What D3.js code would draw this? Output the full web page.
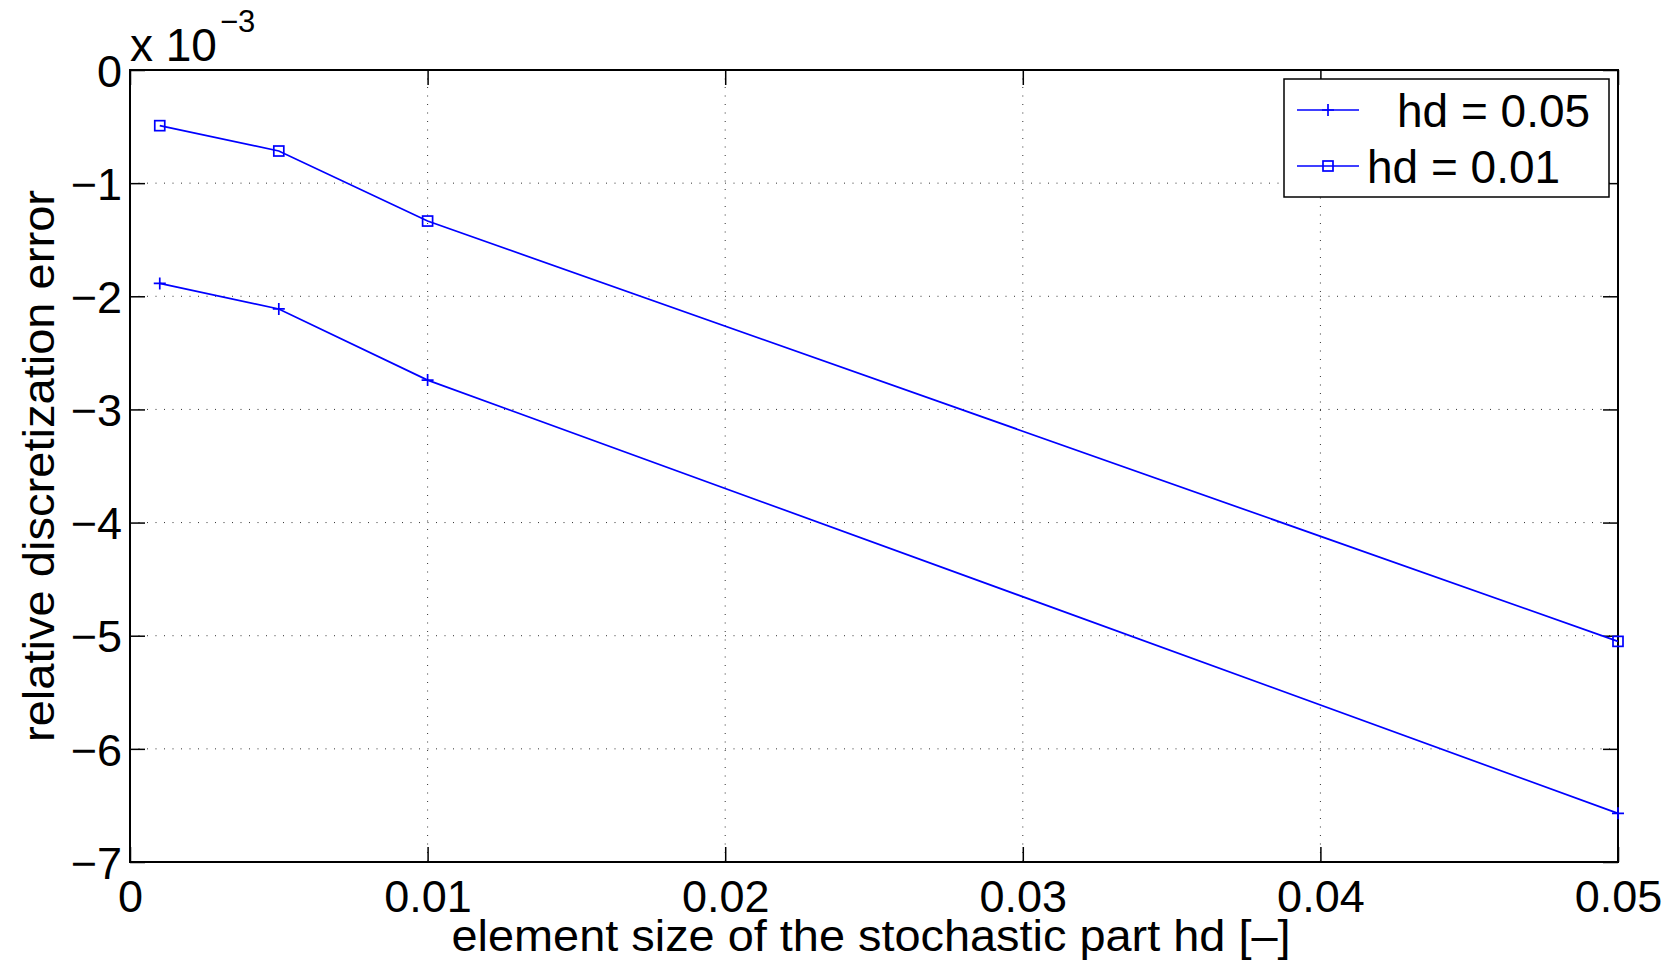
<!DOCTYPE html>
<html>
<head>
<meta charset="utf-8">
<script src="https://cdn.jsdelivr.net/npm/d3@7"></script>
<style>
  html, body { margin: 0; padding: 0; background: #fff; }
  svg { display: block; }
  text { font-family: "Liberation Sans", Arial, Helvetica, sans-serif; fill: #000; }
</style>
</head>
<body>
<svg id="chart" width="1679" height="964"></svg>
<script>
// ---- data ----
const xValues = [0.001, 0.005, 0.01, 0.05];
const seriesHd005 = [-1.886, -2.112, -2.741, -6.57];   // x 10^-3
const seriesHd001 = [-0.492, -0.716, -1.335, -5.05];   // x 10^-3
const seriesNames = ["hd = 0.05", "hd = 0.01"];
const xTicks = [0, 0.01, 0.02, 0.03, 0.04, 0.05];
const xTickLabels = ["0", "0.01", "0.02", "0.03", "0.04", "0.05"];
const yTicks = [0, -1, -2, -3, -4, -5, -6, -7];
const yTickLabels = ["0", "\u22121", "\u22122", "\u22123", "\u22124", "\u22125", "\u22126", "\u22127"];
const xLabel = "element size of the stochastic part hd [\u2013]";
const yLabel = "relative discretization error";

// ---- layout ----
const L = 130, R = 1618, T = 70, B = 862;
const svg = d3.select("#chart");
const x = d3.scaleLinear().domain([0, 0.05]).range([L, R]);
const y = d3.scaleLinear().domain([-7, 0]).range([B, T]);
const blue = "#0000ff";
const FS = 45;

// grid
const grid = svg.append("g");
grid.selectAll("line.gx").data(xTicks.slice(1, -1)).join("line")
  .attr("x1", d => x(d)).attr("x2", d => x(d)).attr("y1", T).attr("y2", B)
  .attr("stroke", "#333").attr("stroke-width", 1).attr("stroke-dasharray", "1,7.5");
grid.selectAll("line.gy").data(yTicks.slice(1, -1)).join("line")
  .attr("y1", d => y(d)).attr("y2", d => y(d)).attr("x1", L).attr("x2", R)
  .attr("stroke", "#333").attr("stroke-width", 1).attr("stroke-dasharray", "1,7.5");

// axes (ticks inside, mirrored)
const tl = 15;
const axB = d3.axisBottom(x).tickValues(xTicks).tickSize(-tl).tickFormat((d, i) => xTickLabels[i]);
const axT = d3.axisTop(x).tickValues(xTicks).tickSize(-tl).tickFormat("");
const axL = d3.axisLeft(y).tickValues(yTicks).tickSize(-tl).tickFormat((d, i) => yTickLabels[i]);
const axR = d3.axisRight(y).tickValues(yTicks).tickSize(-tl).tickFormat("");

function style(g) {
  g.select(".domain").attr("stroke", "#000").attr("stroke-width", 2);
  g.selectAll(".tick line").attr("stroke", "#000").attr("stroke-width", 1.5);
  g.selectAll(".tick text").attr("font-size", FS).attr("font-family", "Liberation Sans, Arial, sans-serif").attr("fill", "#000");
}
const gB = svg.append("g").attr("transform", `translate(0,${B})`).call(axB).call(style);
gB.selectAll(".tick text").attr("y", 0).attr("dy", null).attr("transform", "translate(0,50)");
const gT = svg.append("g").attr("transform", `translate(0,${T})`).call(axT).call(style);
const gL = svg.append("g").attr("transform", `translate(${L},0)`).call(axL).call(style);
gL.selectAll(".tick text").attr("x", -8).attr("dy", "0.36em");
const gR = svg.append("g").attr("transform", `translate(${R},0)`).call(axR).call(style);
svg.selectAll(".domain").attr("d", null);
svg.append("rect").attr("x", L).attr("y", T).attr("width", R - L).attr("height", B - T)
  .attr("fill", "none").attr("stroke", "#000").attr("stroke-width", 2);

// exponent label
const ex = svg.append("text").attr("x", L).attr("y", 61).attr("font-size", 46);
ex.append("tspan").text("x 10");
ex.append("tspan").attr("font-size", 31).attr("dy", -29).attr("dx", 3).text("\u22123");

// axis labels
svg.append("text").attr("x", (L + R) / 2 - 3).attr("y", 951).attr("text-anchor", "middle")
  .attr("font-size", FS).attr("textLength", 839).attr("lengthAdjust", "spacingAndGlyphs").text(xLabel);
svg.append("text").attr("transform", `translate(54,${(T + B) / 2}) rotate(-90)`)
  .attr("text-anchor", "middle").attr("font-size", FS)
  .attr("textLength", 552).attr("lengthAdjust", "spacingAndGlyphs").text(yLabel);

// lines
const line = d3.line().x((d, i) => x(xValues[i])).y(d => y(d));
const plot = svg.append("g");
plot.append("path").datum(seriesHd005).attr("d", line).attr("fill", "none").attr("stroke", blue).attr("stroke-width", 1.7);
plot.append("path").datum(seriesHd001).attr("d", line).attr("fill", "none").attr("stroke", blue).attr("stroke-width", 1.7);

const pm = 6, sq = 5;
function plus(g, cx, cy) {
  g.append("path").attr("d", `M${cx - pm},${cy}H${cx + pm}M${cx},${cy - pm}V${cy + pm}`)
    .attr("stroke", blue).attr("stroke-width", 1.7).attr("fill", "none");
}
function square(g, cx, cy) {
  g.append("rect").attr("x", cx - sq).attr("y", cy - sq).attr("width", 2 * sq).attr("height", 2 * sq)
    .attr("stroke", blue).attr("stroke-width", 1.7).attr("fill", "none");
}
seriesHd005.forEach((v, i) => plus(plot, x(xValues[i]), y(v)));
seriesHd001.forEach((v, i) => square(plot, x(xValues[i]), y(v)));

// legend
const lg = svg.append("g");
lg.append("rect").attr("x", 1284).attr("y", 79).attr("width", 325).attr("height", 118)
  .attr("fill", "#fff").attr("stroke", "#000").attr("stroke-width", 1.5);
const rows = [110, 166];
const textX = [1397, 1367];
rows.forEach((ry, i) => {
  lg.append("line").attr("x1", 1297).attr("x2", 1359).attr("y1", ry).attr("y2", ry)
    .attr("stroke", blue).attr("stroke-width", 1.7);
  if (i === 0) plus(lg, 1328, ry); else square(lg, 1328, ry);
  lg.append("text").attr("x", textX[i]).attr("y", ry + 17).attr("font-size", 46).text(seriesNames[i]);
});
</script>
</body>
</html>
